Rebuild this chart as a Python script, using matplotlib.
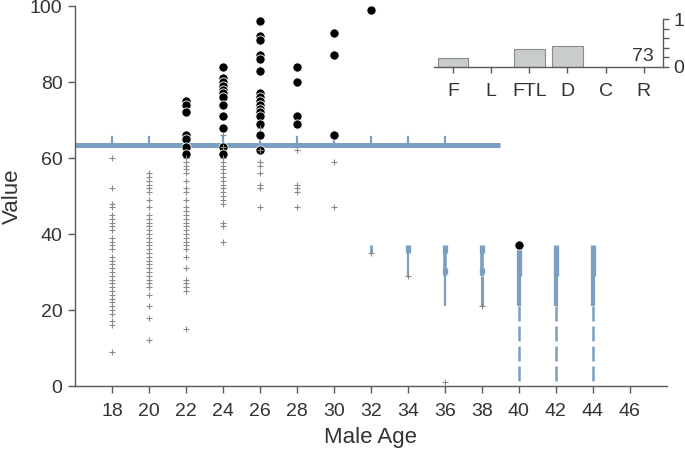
import matplotlib
matplotlib.use("Agg")
import matplotlib.pyplot as plt

plt.rcParams["font.family"] = ["Liberation Sans", "DejaVu Sans"]

# ── data ──────────────────────────────────────────────────────────────────────
ages = [18, 20, 22, 24, 26, 28, 30, 32, 34, 36, 38, 40, 42, 44, 46]

# grey "+" points per age
plus_18 = [60, 52, 48, 47, 45, 44, 43, 42, 41, 39, 38, 37, 36, 34, 33, 32, 31,
           30, 29, 28, 27, 26, 25, 24, 23, 22, 21, 20, 19, 17, 16, 9]
plus_20 = [56, 55, 54, 53, 52, 51, 49, 47, 45, 44, 43, 42, 41, 40, 39, 38, 37,
           36, 35, 34, 33, 32, 31, 30, 29, 28, 27, 26, 24, 21, 18, 12]
plus_22 = [60, 59, 58, 57, 56, 54, 52, 51, 49, 47, 46, 45, 44, 43, 42, 41, 40,
           39, 38, 37, 36, 34, 31, 28, 27, 26, 25, 15]
plus_24 = [66, 63, 60, 59, 58, 57, 56, 55, 54, 53, 52, 51, 50, 49, 48, 43, 42, 38]
plus_26 = [68, 62, 59, 58, 56, 53, 52, 47]
plus_28 = [62, 53, 52, 51, 47]
plus_30 = [59, 47]
plus_32 = [35]
plus_34 = [29]
plus_36 = [1]
plus_38 = [21]

# black dots per age
dots_22 = [75, 74, 72, 66, 65, 63, 61]
dots_24 = [84, 81, 80, 79, 78, 77, 76, 74, 71, 68, 63, 61]
dots_26 = [96, 92, 91, 87, 86, 83, 77, 76, 75, 74, 73, 72, 71, 69, 66, 62]
dots_28 = [84, 80, 71, 69]
dots_30 = [93, 87, 66]
dots_32 = [99]
dots_40 = [37]

# compact boxes (older ages)
box_ages = [32, 34, 36, 38, 40, 42, 44]
box_top = [37, 37, 37, 37, 37, 37, 37]
box_mid = [35, 35, 35, 35, 29, 29, 29]
box_q1 = [35, 35, 29, 29, 29, 29, 29]
box_wlo = [35, 29, 21, 21, 21, 21, 21]
box_tail = [None, None, None, None, 0, 0, 0]

ref_level = 63.5
ref_end = 39
ref_tick_ages = [18, 20, 22, 24, 26, 28, 30, 32, 34, 36]

# inset bars
inset_cats = ["F", "L", "FTL", "D", "C", "R"]
inset_vals = [0.19, 0, 0.37, 0.44, 0, 0]
inset_note = "73"

plus_map = {18: plus_18, 20: plus_20, 22: plus_22, 24: plus_24, 26: plus_26,
            28: plus_28, 30: plus_30, 32: plus_32, 34: plus_34, 36: plus_36,
            38: plus_38}
dots_map = {22: dots_22, 24: dots_24, 26: dots_26, 28: dots_28, 30: dots_30,
            32: dots_32, 40: dots_40}

BLUE = "#7b9fc3"
GREY = "#8a8a8a"
AXC = "#5a5a5a"
TXT = "#333333"

# ── figure ────────────────────────────────────────────────────────────────────
fig = plt.figure(figsize=(6.85, 4.49), dpi=100)
ax = fig.add_axes([0.1095, 0.1403, 0.864, 0.8463])

# reference line with small ticks
ax.plot([16, ref_end], [ref_level, ref_level], color=BLUE, lw=3.6,
        solid_capstyle="butt", zorder=2)
for a in ref_tick_ages:
    ax.plot([a, a], [ref_level, ref_level + 2.0], color=BLUE, lw=1.6, zorder=2)

# compact boxes
for a, t, m, q, w, tl in zip(box_ages, box_top, box_mid, box_q1, box_wlo, box_tail):
    thick = 2.0 if a == 32 else 3.8
    ax.plot([a, a], [t, m], color=BLUE, lw=thick, solid_capstyle="butt", zorder=2)
    if a >= 40:
        ax.plot([a, a], [32.5, 30.5], color=BLUE, lw=2.8, solid_capstyle="butt", zorder=2)
    if q < m:
        ax.plot([a, a], [m, q], color=BLUE, lw=2.6, solid_capstyle="butt", zorder=2)
        ax.plot([a, a], [31.0, 29.5], color=BLUE, lw=3.8, solid_capstyle="butt", zorder=2)
    if w < q:
        lw = 3.0 if a >= 40 else (2.2 if a == 38 else 1.6)
        ax.plot([a, a], [q, w], color=BLUE, lw=lw, solid_capstyle="butt", zorder=2)
    if tl is not None:
        ax.plot([a, a], [w, tl], color=BLUE, lw=1.8, ls=(0, (6, 2)), zorder=2)

for a, vals in dots_map.items():
    ax.scatter([a] * len(vals), vals, s=44, color="black", edgecolors="white",
               linewidths=0.6, zorder=3)

for a, vals in plus_map.items():
    ax.plot([a] * len(vals), vals, ls="none", marker="+", ms=5, mew=0.8,
            color=GREY, zorder=4)

ax.set_xlim(16, 48)
ax.set_ylim(0, 100)
ax.set_xticks(ages)
ax.set_yticks([0, 20, 40, 60, 80, 100])
ax.set_xlabel("Male Age", fontsize=16, color=TXT, labelpad=5)
ax.set_ylabel("Value", fontsize=16, color=TXT)
ax.yaxis.set_label_coords(-0.088, 0.5)
for s in ["top", "right"]:
    ax.spines[s].set_visible(False)
for s in ["left", "bottom"]:
    ax.spines[s].set_color(AXC)
    ax.spines[s].set_linewidth(1.0)
ax.tick_params(direction="out", length=5, width=1, colors=AXC,
               labelcolor=TXT, labelsize=14)
ax.tick_params(axis="x", pad=7)
ax.tick_params(axis="y", pad=4)

# ── inset ─────────────────────────────────────────────────────────────────────
ins = fig.add_axes([0.6336, 0.8515, 0.334, 0.1056])
xs = range(len(inset_cats))
ins.bar(xs, inset_vals, width=0.8, color="#c9cccd", edgecolor="#8a8a8a",
        linewidth=0.8)
ins.set_xlim(-0.5, 5.5)
ins.set_ylim(0, 1)
ins.set_xticks(list(xs))
ins.set_xticklabels(inset_cats)
ins.set_yticks([0, 0.2, 0.4, 0.6, 0.8, 1.0])
ins.set_yticklabels(["0", "", "", "", "", "1"])
ins.yaxis.tick_right()
ins.patch.set_alpha(0)
for s in ["top", "left"]:
    ins.spines[s].set_visible(False)
for s in ["right", "bottom"]:
    ins.spines[s].set_color(AXC)
    ins.spines[s].set_linewidth(1.0)
ins.tick_params(direction="out", length=4, width=1, colors=AXC,
                labelcolor=TXT, labelsize=14)
ins.tick_params(axis="x", pad=8)
ins.text(5.25, 0.04, inset_note, ha="right", va="bottom", fontsize=14, color=TXT)

fig.savefig("out.png", dpi=100)
